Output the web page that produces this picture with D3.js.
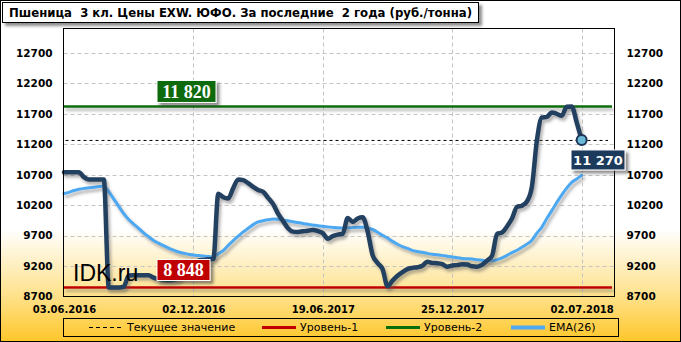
<!DOCTYPE html>
<html><head><meta charset="utf-8">
<script src="https://cdn.jsdelivr.net/npm/d3@7"></script>
<style>body{margin:0;background:#fff}svg{display:block}</style>
</head><body>
<svg id="c" width="681" height="342"></svg>
<script>
const titleText = "Пшеница  3 кл. Цены EXW. ЮФО. За последние  2 года (руб./тонна)";
const xTickIndex = [0, 26, 52, 78, 104];
const xTickLabels = ["03.06.2016", "02.12.2016", "19.06.2017", "25.12.2017", "02.07.2018"];
const yTicks = [8700, 9200, 9700, 10200, 10700, 11200, 11700, 12200, 12700];
const price = [10740,10740,10740,10740,10660,10620,10620,10620,10620,8848,
  8848,8848,8860,9044,9050,9050,9050,9050,9010,8985,
  8975,8965,8975,9000,9080,9180,9250,9290,9300,9310,
  9315,10388,10330,10310,10480,10620,10610,10560,10500,10450,
  10420,10320,10220,10060,9940,9820,9765,9760,9770,9780,
  9793,9775,9740,9650,9690,9715,9730,9990,9925,9980,
  10000,9770,9380,9250,9150,8870,8960,9040,9100,9150,
  9170,9180,9205,9270,9250,9246,9230,9190,9208,9215,
  9230,9225,9195,9190,9220,9290,9370,9728,9750,9850,
  9980,10170,10191,10260,10500,11257,11639,11650,11720,11700,
  11667,11814,11820,11560,11270];
const ema = [10390,10410,10440,10460,10475,10485,10495,10505,10510,10420,
  10300,10180,10060,9965,9890,9820,9745,9680,9620,9575,
  9535,9495,9460,9430,9410,9395,9380,9372,9365,9355,
  9345,9400,9455,9540,9618,9690,9760,9820,9880,9925,
  9945,9960,9973,9968,9958,9945,9928,9915,9900,9885,
  9875,9862,9852,9843,9835,9828,9826,9828,9832,9835,
  9836,9825,9800,9755,9705,9660,9605,9558,9520,9490,
  9458,9440,9425,9408,9395,9385,9375,9362,9350,9335,
  9325,9320,9315,9305,9295,9285,9285,9305,9335,9375,
  9420,9460,9510,9560,9625,9740,9840,9980,10110,10245,
  10370,10480,10575,10630,10690];
const level1 = 8848, level2 = 11820, current = 11270;
const legendItems = ["Текущее значение", "Уровень-1", "Уровень-2", "EMA(26)"];

const W = 681, H = 342;
const svg = d3.select("#c");
const defs = svg.append("defs");
const g = defs.append("linearGradient").attr("id","bg").attr("x1",0).attr("y1",0).attr("x2",0).attr("y2",1);
g.append("stop").attr("offset","0").attr("stop-color","#ffffff");
g.append("stop").attr("offset","0.67").attr("stop-color","#ffffff");
g.append("stop").attr("offset","0.86").attr("stop-color","#fee28e");
g.append("stop").attr("offset","1").attr("stop-color","#ffc629");
const sh = defs.append("filter").attr("id","sh").attr("filterUnits","userSpaceOnUse")
  .attr("x",0).attr("y",0).attr("width",W).attr("height",H);
sh.append("feDropShadow").attr("dx",2).attr("dy",3).attr("stdDeviation",1.6).attr("flood-color","#555").attr("flood-opacity",0.45);
const sh2 = defs.append("filter").attr("id","sh2").attr("filterUnits","userSpaceOnUse")
  .attr("x",0).attr("y",0).attr("width",W).attr("height",H);
sh2.append("feDropShadow").attr("dx",3).attr("dy",3).attr("stdDeviation",1.5).attr("flood-color","#333").attr("flood-opacity",0.55);

svg.append("rect").attr("x",0).attr("y",0).attr("width",W).attr("height",H).attr("fill","url(#bg)");
svg.append("rect").attr("x",0.5).attr("y",0.5).attr("width",W-1).attr("height",H-1).attr("fill","none").attr("stroke","#000");

const L = 63.5, R = 614.5, T = 28.5, B = 296.5;
const x = d3.scaleLinear().domain([-0.1, 110.6]).range([L, R]);
const y = d3.scaleLinear().domain([8700, 13100]).range([B, T]);

// grid
const grid = svg.append("g");
grid.selectAll("line.h").data(yTicks.slice(1)).join("line")
  .attr("x1",L).attr("x2",R).attr("y1",d=>Math.round(y(d))+0.5).attr("y2",d=>Math.round(y(d))+0.5)
  .attr("stroke","#c4c4c4").attr("stroke-dasharray","4,3");
grid.selectAll("line.v").data(xTickIndex.slice(1)).join("line")
  .attr("x1",d=>Math.round(x(d))+0.5).attr("x2",d=>Math.round(x(d))+0.5).attr("y1",T).attr("y2",B)
  .attr("stroke","#c4c4c4").attr("stroke-dasharray","4,3");

// axes labels via d3 axes
const axL = d3.axisLeft(y).tickValues(yTicks).tickSize(0).tickPadding(11).tickFormat(d3.format("d"));
const axR = d3.axisRight(y).tickValues(yTicks).tickSize(0).tickPadding(12).tickFormat(d3.format("d"));
const axB = d3.axisBottom(x).tickValues(xTickIndex).tickSize(0).tickPadding(9).tickFormat((d,i)=>xTickLabels[i]);
[[axL,`translate(${L},0)`],[axR,`translate(${R},0)`],[axB,`translate(0,${B})`]].forEach(([a,t])=>{
  const gg = svg.append("g").attr("transform",t).call(a);
  gg.select(".domain").remove();
  gg.selectAll("text").attr("font-family","DejaVu Sans").attr("font-weight","bold")
    .attr("font-size", a===axB ? "10px" : "10.5px").attr("fill","#000");
});

// levels
svg.append("line").attr("x1",L).attr("x2",612).attr("y1",y(level2)).attr("y2",y(level2))
  .attr("stroke","#0a6e0a").attr("stroke-width",2.5).attr("filter","url(#sh)");
svg.append("line").attr("x1",L).attr("x2",612).attr("y1",y(level1)).attr("y2",y(level1))
  .attr("stroke","#c00000").attr("stroke-width",2.5).attr("filter","url(#sh)");
svg.append("line").attr("x1",L+2).attr("x2",608).attr("y1",y(current)+0.5).attr("y2",y(current)+0.5)
  .attr("stroke","#000").attr("stroke-width",1).attr("stroke-dasharray","3,3");

const line = d3.line().x((d,i)=>x(i)).y(d=>y(d)).curve(d3.curveMonotoneX);
svg.append("path").attr("d",line(ema)).attr("fill","none").attr("stroke","#4ea8f2")
  .attr("stroke-width",3).attr("stroke-linecap","round").attr("filter","url(#sh)");
svg.append("path").attr("d",line(price)).attr("fill","none").attr("stroke","#243f60")
  .attr("stroke-width",4.5).attr("stroke-linejoin","round").attr("stroke-linecap","round").attr("filter","url(#sh)");

// plot border
svg.append("rect").attr("x",L).attr("y",T).attr("width",R-L).attr("height",B-T).attr("fill","none").attr("stroke","#000");

// current marker
const li = price.length-1;
svg.append("circle").attr("cx",x(li)).attr("cy",y(price[li])).attr("r",5)
  .attr("fill","#6bbbd8").attr("stroke","#1d3557").attr("stroke-width",2);

// IDK watermark
svg.append("text").attr("x",73).attr("y",281).text("IDK.ru")
  .attr("font-family","Liberation Sans").attr("font-size","23px").attr("fill","#000");

// value labels
function label(cx, cyTop, w, h, fill, txt, font, fs, weight){
  const gg = svg.append("g");
  gg.append("rect").attr("x",cx).attr("y",cyTop).attr("width",w).attr("height",h)
    .attr("fill",fill).attr("stroke","#fff").attr("stroke-width",1).attr("filter","url(#sh2)");
  gg.append("text").attr("x",cx+w/2).attr("y",cyTop+h/2).attr("dy","0.36em").attr("text-anchor","middle")
    .attr("font-family",font).attr("font-size",fs).attr("font-weight",weight).attr("fill","#fff").text(txt);
}
const fmt = v => d3.format(",")(v).replace(/,/g," ");
label(157, y(level2)-26, 59, 22, "#0b6b0b", fmt(level2), "Liberation Serif", "18px", "bold");
label(157, y(level1)-28, 53, 21, "#c00000", fmt(level1), "Liberation Serif", "18px", "bold");
label(571, y(current)+10, 54, 20, "#1f3a5c", fmt(current), "DejaVu Sans", "13px", "bold");

// title box
svg.append("rect").attr("x",2.5).attr("y",2.5).attr("width",476).attr("height",20)
  .attr("fill","#fff").attr("stroke","#000").attr("filter","url(#sh2)");
svg.append("text").attr("x",9).attr("y",17).text(titleText).style("white-space","pre")
  .attr("font-family","DejaVu Sans").attr("font-weight","bold").attr("font-size","11.5px")
  .attr("textLength",463).attr("lengthAdjust","spacingAndGlyphs");

// legend
const lg = svg.append("g");
lg.append("rect").attr("x",63.5).attr("y",318.5).attr("width",555).attr("height",18).attr("fill","none").attr("stroke","#000");
const lx = [89, 262, 386, 511];
const ly = 327.5;
const lstyles = [
  {c:"#000", w:1, d:"4,3"}, {c:"#c00000", w:3, d:null}, {c:"#0a6e0a", w:3, d:null}, {c:"#4ea8f2", w:4, d:null}];
legendItems.forEach((t,i)=>{
  const l = lg.append("line").attr("x1",lx[i]).attr("x2",lx[i]+34).attr("y1",ly).attr("y2",ly)
    .attr("stroke",lstyles[i].c).attr("stroke-width",lstyles[i].w);
  if (lstyles[i].d) l.attr("stroke-dasharray",lstyles[i].d);
  lg.append("text").attr("x",lx[i]+38).attr("y",ly).attr("dy","0.35em").text(t)
    .attr("font-family","DejaVu Sans").attr("font-size","11px").attr("fill","#000");
});
</script>
</body></html>
